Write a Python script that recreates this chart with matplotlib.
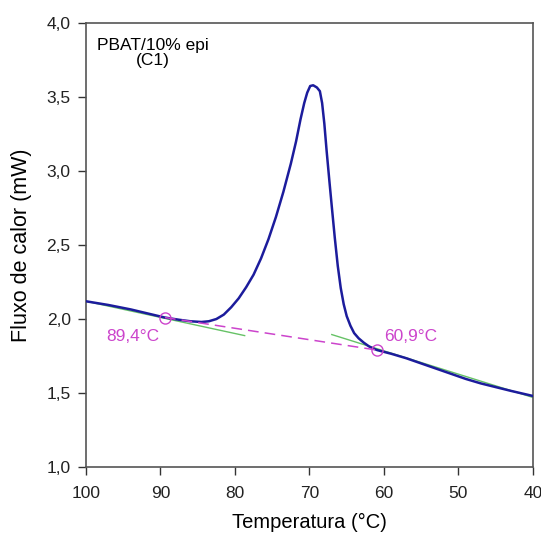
import matplotlib
matplotlib.use("Agg")
import matplotlib.pyplot as plt
from matplotlib.ticker import FuncFormatter

plt.rcParams['font.family'] = ['Liberation Sans', 'DejaVu Sans']

# DSC cooling curve (temperature in °C, heat flow in mW)
temperature = [100, 97, 94, 91.5, 89.4, 87.5, 86, 84.5, 83.5, 82.5, 81.5, 80.5,
               79.5, 78.5, 77.5, 76.5, 75.5, 74.5, 73.5, 72.5, 71.8, 71.2, 70.7,
               70.3, 69.9, 69.5, 69.0, 68.6, 68.3, 68.0, 67.7, 67.3, 67.0, 66.6,
               66.2, 65.8, 65.4, 65.0, 64.5, 64.0, 63.4, 62.7, 62.0, 61.4, 60.9,
               59, 57, 55, 53, 51, 49, 47, 45, 43, 40]
heat_flow = [2.12, 2.095, 2.065, 2.035, 2.01, 1.995, 1.985, 1.98, 1.985, 2.00, 2.03, 2.08,
             2.14, 2.215, 2.30, 2.41, 2.54, 2.69, 2.86, 3.05, 3.20, 3.35, 3.46,
             3.53, 3.575, 3.58, 3.565, 3.54, 3.46, 3.32, 3.14, 2.92, 2.76, 2.55,
             2.36, 2.21, 2.10, 2.02, 1.955, 1.905, 1.87, 1.84, 1.815, 1.80, 1.79,
             1.765, 1.735, 1.70, 1.665, 1.63, 1.595, 1.565, 1.54, 1.515, 1.48]

# Baseline tangents before and after the transition
tangent_left_t = [100, 78.7]
tangent_left_v = [2.12, 1.888]
tangent_right_t = [67.0, 40]
tangent_right_v = [1.895, 1.47]

# Onset / endset points
onset_t = [89.4, 60.9]
onset_v = [2.01, 1.79]
onset_labels = ["89,4°C", "60,9°C"]

x_ticks = [100, 90, 80, 70, 60, 50, 40]
y_ticks = [1.0, 1.5, 2.0, 2.5, 3.0, 3.5, 4.0]

fig = plt.figure(figsize=(5.41, 5.38), dpi=100)
ax = fig.add_axes([0.159, 0.132, 0.826, 0.825])

magenta = '#cc44cc'
ax.plot(tangent_left_t, tangent_left_v, color='#66c266', lw=1.0, zorder=2)
ax.plot(tangent_right_t, tangent_right_v, color='#66c266', lw=1.0, zorder=2)
ax.plot(temperature, heat_flow, color='#1c1c9c', lw=1.8, zorder=3,
        solid_joinstyle='round')
ax.plot(onset_t, onset_v, color=magenta, lw=1.1, ls=(0, (7, 4)), zorder=4)
ax.plot(onset_t, onset_v, ls='none', marker='o', ms=8, mfc='none',
        mec=magenta, mew=1.0, zorder=5)

ax.text(93.7, 1.885, onset_labels[0], color=magenta,
        fontsize=12.5, ha='center', va='center')
ax.text(56.4, 1.885, onset_labels[1], color=magenta,
        fontsize=12.5, ha='center', va='center')

ax.text(0.15, 0.967, "PBAT/10% epi\n(C1)", transform=ax.transAxes,
        ha='center', va='top', fontsize=12.5, linespacing=1.0)

ax.set_xlim(100, 40)
ax.set_ylim(1.0, 4.0)
ax.set_xticks(x_ticks)
ax.set_yticks(y_ticks)
ax.yaxis.set_major_formatter(FuncFormatter(lambda v, p: f"{v:.1f}".replace('.', ',')))
ax.tick_params(direction='out', length=6, width=1, colors='#333333',
               labelsize=12.5, labelcolor='#222222', pad=5)
ax.tick_params(axis='x', pad=8)
for s in ax.spines.values():
    s.set_color('#555555')
    s.set_linewidth(1.2)

ax.set_xlabel("Temperatura (°C)", fontsize=14.5)
ax.xaxis.set_label_coords(0.5, -0.104)
ax.set_ylabel("Fluxo de calor (mW)", fontsize=15.5)
ax.yaxis.set_label_coords(-0.121, 0.5)

fig.savefig("out.png", dpi=100)
